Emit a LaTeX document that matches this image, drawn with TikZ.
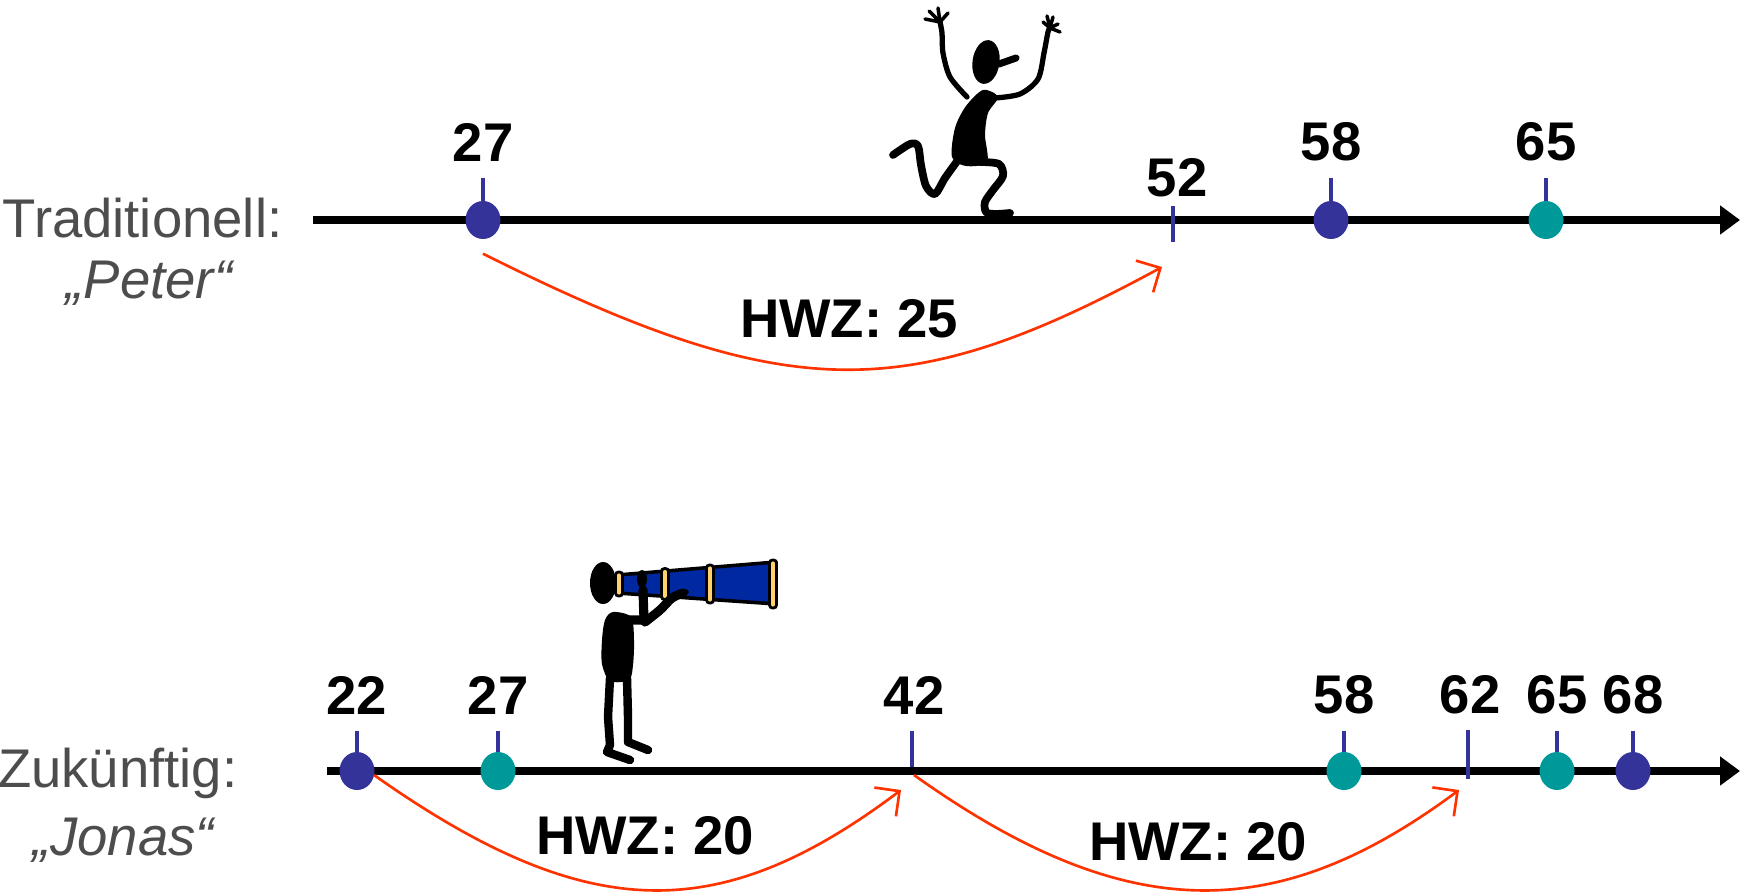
\documentclass[tikz,border=0pt]{standalone}
\usepackage{fontspec}
\setmainfont{Liberation Sans}
\usepackage{tikz}
\usetikzlibrary{arrows.meta, positioning, shapes.geometric, calc}
\definecolor{dotblue}{RGB}{51,51,153}
\definecolor{dotteal}{RGB}{0,153,153}
\definecolor{hwzred}{RGB}{255,51,0}
\definecolor{labelgray}{RGB}{77,77,77}
\definecolor{scopeblue}{RGB}{0,40,160}
\definecolor{ringyellow}{RGB}{255,210,110}

\begin{document}
\begin{tikzpicture}[font=\fontsize{15.5}{18}\selectfont,
  timeline/.style={line width=2.4pt, -{Triangle[length=2mm, width=2.8mm]}},
  event/.style={ellipse, inner sep=0pt, minimum width=3.5mm, minimum height=3.8mm},
  tickline/.style={draw=dotblue, line width=1pt},
  age/.style={font=\fontsize{15.5}{18}\selectfont\bfseries},
  person/.style={text=labelgray, inner sep=0pt},
  hwz/.style={draw=hwzred, line width=0.75pt, -{Straight Barb[length=1.8mm, width=3.6mm]}},
  limb/.style={line cap=round, line join=round},
  scopering/.style={draw=black, line width=0.8pt, fill=ringyellow, rounded corners=0.3mm}]

  \path[use as bounding box, fill=white] (0,0) rectangle (17.44,-8.92);

  % upper line: Peter
  \node[person, anchor=east] (trad) at (2.83,-2.18) {Traditionell:};
  \node[person, font=\fontsize{15.5}{18}\selectfont\itshape] (peter) at (1.49,-2.83) {„Peter“};
  \coordinate (pa) at (3.13,-2.20);
  \coordinate (pe) at (17.40,-2.20);
  \draw[timeline] (pa) -- (pe);

  % dancing figure
  \fill[rotate around={-8:(9.86,-0.62)}] (9.86,-0.62) ellipse (0.135 and 0.22);
  \draw[line width=2pt, line cap=round] (9.99,-0.64) -- (10.16,-0.58);
  \fill plot[smooth cycle] coordinates {(9.83,-0.90) (9.98,-0.97) (9.88,-1.13)
    (9.85,-1.35) (9.87,-1.62) (9.66,-1.66) (9.52,-1.57) (9.55,-1.28) (9.66,-1.06)};
  \draw[limb, line width=1.5pt] plot[smooth] coordinates {(9.67,-0.97) (9.50,-0.77)
    (9.43,-0.53) (9.42,-0.33) (9.40,-0.22)};
  \foreach \fx/\fy in {9.25/-0.19, 9.29/-0.11, 9.38/-0.08, 9.48/-0.13}
    \draw[limb, line width=1pt] (9.40,-0.22) -- (\fx,\fy);
  \draw[limb, line width=1.5pt] plot[smooth] coordinates {(9.95,-0.98) (10.20,-0.94)
    (10.38,-0.79) (10.44,-0.53) (10.48,-0.32) (10.50,-0.28)};
  \foreach \fx/\fy in {10.43/-0.22, 10.47/-0.16, 10.53/-0.17, 10.58/-0.24, 10.60/-0.32}
    \draw[limb, line width=1pt] (10.50,-0.28) -- (\fx,\fy);
  \draw[limb, line width=2.2pt] plot[smooth] coordinates {(9.58,-1.60) (9.45,-1.78)
    (9.35,-1.94) (9.26,-1.86) (9.21,-1.65) (9.18,-1.46) (9.10,-1.44) (8.93,-1.55)};
  \draw[limb, line width=2.2pt] plot[smooth] coordinates {(9.80,-1.62) (9.99,-1.64)
    (10.03,-1.76) (9.93,-1.90) (9.85,-2.02) (9.86,-2.12) (9.95,-2.14) (10.10,-2.13)};

  \foreach \a/\x/\c in {27/4.83/dotblue, 58/13.31/dotblue, 65/15.46/dotteal} {
    \draw[tickline] (\x,-2.20) -- ++(0,0.42);
    \node[event, fill=\c] (p\a) at (\x,-2.20) {};
    \node[age] (pl\a) at (\x,-1.42) {\a};
  }
  \coordinate (p52) at (11.73,-2.20);
  \draw[tickline] ([yshift=1.4mm]p52) -- ([yshift=-2.2mm]p52);
  \node[age] (pl52) at (11.77,-1.78) {52};

  \draw[hwz] ([yshift=-1.4mm]p27.south) .. controls +(3.04,-1.52) and +(-2.56,-1.39)
    .. ([shift={(-1.1mm,-4.7mm)}]p52);
  \node[age] (hwzp) at (8.49,-3.19) {HWZ: 25};

  % lower line: Jonas
  \node[person, anchor=east] (zuk) at (2.38,-7.73) {Zukünftig:};
  \node[person, font=\fontsize{15.5}{18}\selectfont\itshape] (jonas) at (1.23,-8.40) {„Jonas“};
  \coordinate (ja) at (3.27,-7.71);
  \coordinate (je) at (17.40,-7.71);
  \draw[timeline] (ja) -- (je);

  % figure with telescope
  \fill (6.03,-5.83) ellipse (0.13 and 0.21);
  \draw[line width=1pt, fill=scopeblue, line join=round]
    (6.17,-5.75) -- (7.76,-5.62) -- (7.76,-6.04) -- (6.17,-5.93) -- cycle;
  \foreach \x/\h in {6.19/0.12, 6.65/0.155, 7.10/0.19, 7.73/0.24}
    \draw[scopering] (\x-0.035,-5.84-\h) rectangle (\x+0.035,-5.84+\h);
  \fill plot[smooth cycle] coordinates {(6.13,-6.12) (6.31,-6.17) (6.34,-6.40)
    (6.33,-6.65) (6.29,-6.80) (6.10,-6.81) (6.02,-6.64) (6.02,-6.40) (6.05,-6.20)};
  \draw[limb, line width=2.6pt] (6.28,-6.20) -- (6.44,-6.20) -- (6.43,-5.90);
  \fill (6.42,-5.79) ellipse (0.05 and 0.09);
  \draw[limb, line width=2.6pt] plot[smooth] coordinates {(6.45,-6.22) (6.60,-6.10)
    (6.72,-5.98) (6.83,-5.93)};
  \fill (6.84,-5.92) ellipse (0.05 and 0.03);
  \draw[limb, line width=2.4pt] (6.10,-6.78) -- (6.08,-7.17) -- (6.10,-7.45)
    -- (6.07,-7.52) -- (6.30,-7.60);
  \draw[limb, line width=2.4pt] (6.27,-6.78) -- (6.28,-7.17) -- (6.28,-7.42) -- (6.48,-7.50);

  \foreach \a/\x/\c in {22/3.57/dotblue, 27/4.98/dotteal, 58/13.44/dotteal,
                        65/15.57/dotteal, 68/16.33/dotblue} {
    \draw[tickline] (\x,-7.71) -- ++(0,0.40);
    \node[event, fill=\c] (j\a) at (\x,-7.71) {};
    \node[age] (jl\a) at (\x,-6.95) {\a};
  }
  \coordinate (j42) at (9.12,-7.71);
  \coordinate (j62) at (14.68,-7.71);
  \draw[tickline] ([yshift=4mm]j42) -- ([yshift=0.4mm]j42);
  \draw[tickline] ([yshift=4.1mm]j62) -- ([yshift=-0.8mm]j62);
  \node[age] (jl42) at (9.14,-6.95) {42};
  \node[age] (jl62) at (14.70,-6.95) {62};

  \draw[hwz] ([shift={(1.7mm,-0.4mm)}]j22.center) .. controls +(2.14,-1.51) and +(-1.81,-1.36)
    .. ([shift={(-1.1mm,-1.9mm)}]j42);
  \draw[hwz] ([shift={(0.2mm,-0.4mm)}]j42) .. controls +(2.12,-1.51) and +(-1.83,-1.36)
    .. ([shift={(-0.9mm,-1.9mm)}]j62);
  \node[age] (hwzj1) at (6.45,-8.36) {HWZ: 20};
  \node[age] (hwzj2) at (11.98,-8.42) {HWZ: 20};
\end{tikzpicture}
\end{document}
